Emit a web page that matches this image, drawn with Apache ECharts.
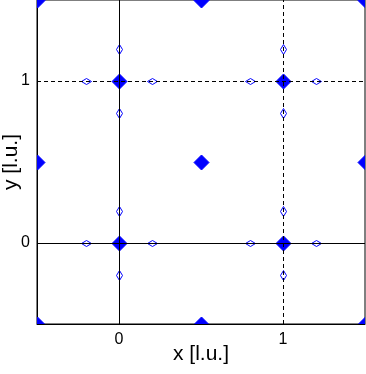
<!DOCTYPE html>
<html><head><meta charset="utf-8">
<script src="https://cdn.jsdelivr.net/npm/echarts@6/dist/echarts.min.js"></script>
<style>html,body{margin:0;padding:0;background:#fff}#c{width:366px;height:374px}</style>
</head><body><div id="c"></div>
<script>
// Lattice sites (large filled diamonds)
const siteX = [0, 1, 0, 1, 0.5, 0.5, 0.5, -0.5, 1.5, -0.5, -0.5, 1.5, 1.5];
const siteY = [0, 0, 1, 1, 0.5, -0.5, 1.5, 0.5, 0.5, -0.5, 1.5, -0.5, 1.5];
// Displaced positions along x (small open diamonds, wide)
const hX = [-0.2, 0.2, 0.8, 1.2, -0.2, 0.2, 0.8, 1.2];
const hY = [0, 0, 0, 0, 1, 1, 1, 1];
// Displaced positions along y (small open diamonds, tall)
const vX = [0, 0, 1, 1, 0, 0, 1, 1];
const vY = [-0.2, 0.2, -0.2, 0.2, 0.8, 1.2, 0.8, 1.2];
// Reference lines
const solidX = [0], dashedX = [1], solidY = [0], dashedY = [1];
const tickLabels = ['0', '1'];

const zip = (a, b) => a.map((v, i) => [v, b[i]]);
const chart = echarts.init(document.getElementById('c'));
const font = 'Liberation Sans, Arial, sans-serif';
const axisCommon = {
  type: 'value', min: -0.5, max: 1.5, interval: 0.5,
  axisLine: { show: true, onZero: false, lineStyle: { color: '#000', width: 1 } },
  axisTick: { show: false },
  splitLine: { show: false },
  nameLocation: 'middle',
  nameMoveOverlap: false,
  nameTextStyle: { color: '#000', fontSize: 21, fontFamily: font }
};
const labelStyle = (margin) => ({
  color: '#000', fontSize: 16, fontFamily: font, margin: margin,
  formatter: v => tickLabels.includes(String(v)) ? String(v) : ''
});
function diamondSeries(data, w, h, fill, stroke) {
  return {
    type: 'custom', coordinateSystem: 'cartesian2d', clip: true, z: 2,
    data: data,
    renderItem: (params, api) => {
      const p = api.coord([api.value(0), api.value(1)]);
      const x = Math.round(p[0]) + 0.5, y = Math.round(p[1]) + 0.5;
      return {
        type: 'polygon',
        shape: { points: [[x - w / 2, y], [x, y - h / 2], [x + w / 2, y], [x, y + h / 2]] },
        style: { fill: fill, stroke: stroke, lineWidth: 1 }
      };
    }
  };
}
chart.setOption({
  animation: false,
  backgroundColor: '#fff',
  grid: { left: 37, right: 1, top: 0, bottom: 50, outerBoundsMode: 'none', containLabel: false,
          show: true, borderColor: '#000', borderWidth: 1, backgroundColor: 'transparent' },
  xAxis: Object.assign({}, axisCommon, { name: 'x [l.u.]', nameGap: 20, axisLabel: labelStyle(8) }),
  yAxis: Object.assign({}, axisCommon, { name: 'y [l.u.]', nameGap: 15, axisLabel: labelStyle(7) }),
  series: [
    diamondSeries(zip(siteX, siteY), 15, 15, '#0000ff', '#0000ff'),
    diamondSeries(zip(hX, hY), 10, 6, '#ffffff', '#0000ff'),
    diamondSeries(zip(vX, vY), 6, 10, '#ffffff', '#0000ff'),
    {
      type: 'line', data: [], z: 5,
      markLine: {
        silent: true, symbol: 'none', animation: false,
        label: { show: false },
        data: [
          ...solidX.map(v => ({ xAxis: v, lineStyle: { color: '#000', width: 1, type: 'solid' } })),
          ...dashedX.map(v => ({ xAxis: v, lineStyle: { color: '#000', width: 1, type: [4, 3] } })),
          ...solidY.map(v => ({ yAxis: v, lineStyle: { color: '#000', width: 1, type: 'solid' } })),
          ...dashedY.map(v => ({ yAxis: v, lineStyle: { color: '#000', width: 1, type: [4, 3] } }))
        ]
      }
    }
  ]
});
</script></body></html>
